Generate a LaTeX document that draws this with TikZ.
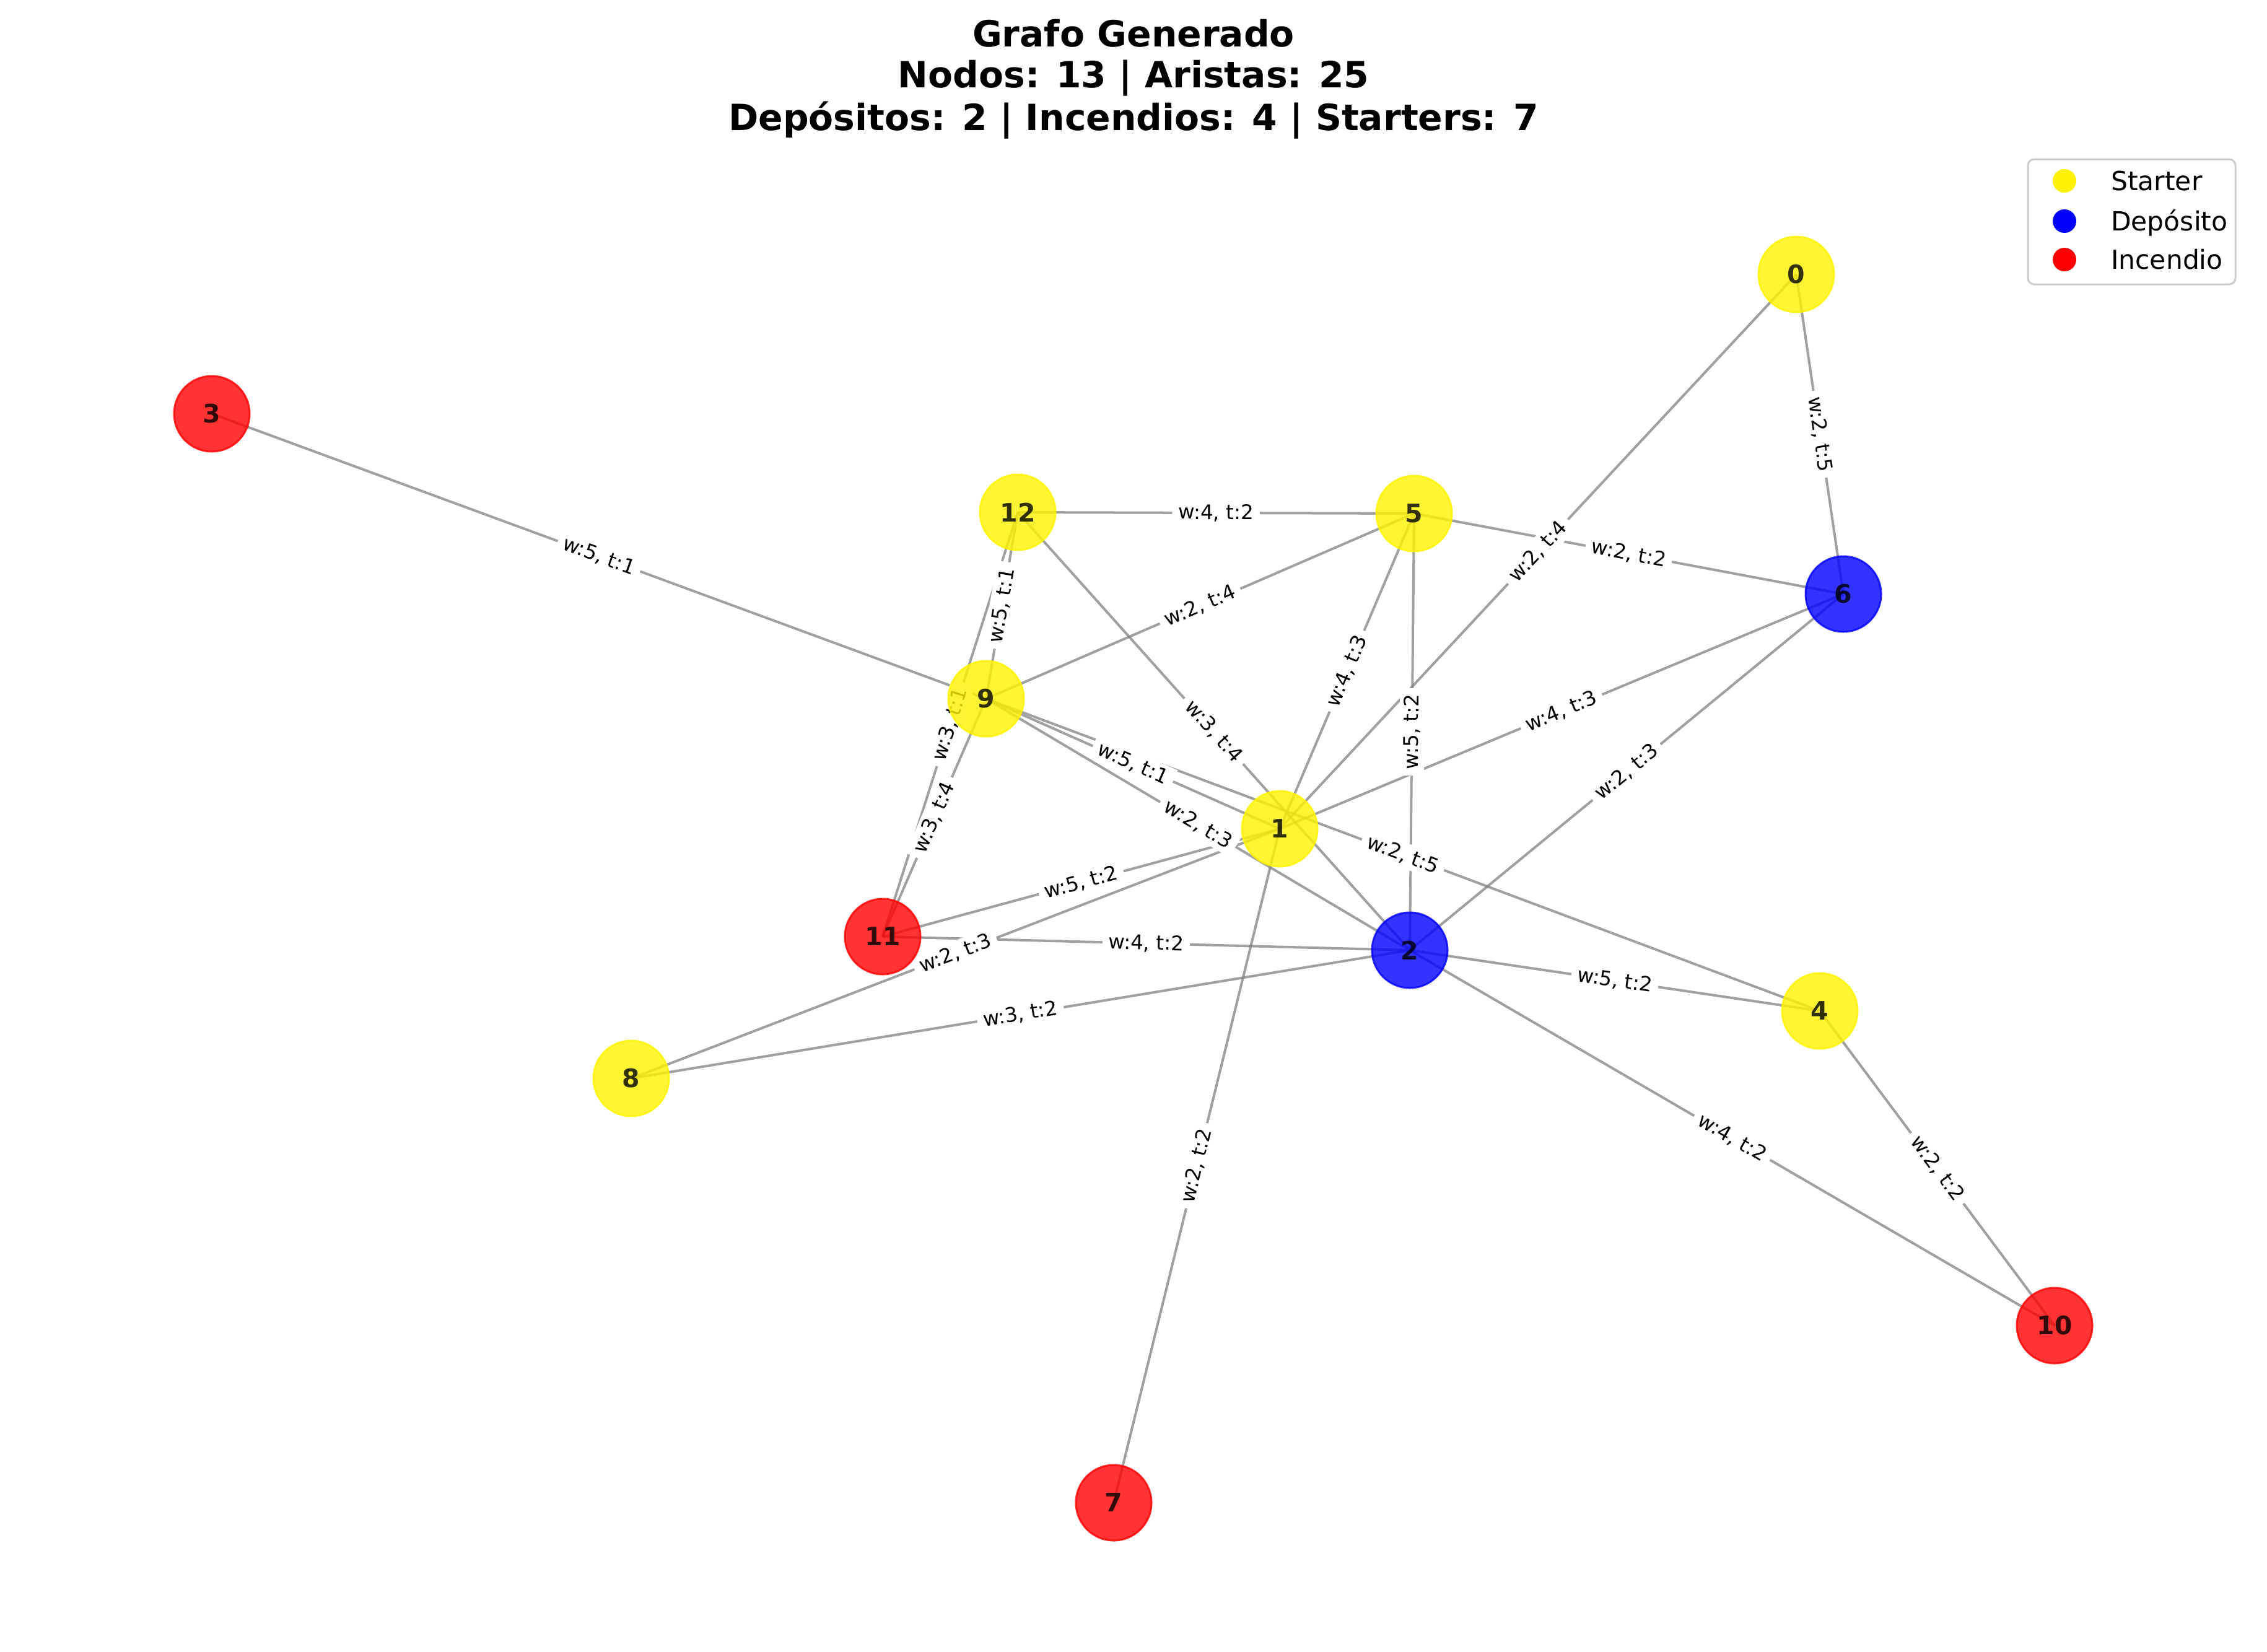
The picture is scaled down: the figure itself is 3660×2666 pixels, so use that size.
\documentclass[tikz,border=0pt]{standalone}
\usepackage{fontspec}
\setmainfont{DejaVu Sans}
\pgfdeclarelayer{edges}
\pgfdeclarelayer{weights}
\pgfsetlayers{edges,weights,main}
\definecolor{edgegray}{RGB}{128,128,128}
\tikzset{
    vert/.style={circle, minimum size=24.4pt, inner sep=0pt, line width=0.6pt,
        fill opacity=0.8, draw opacity=0.8, text opacity=0.8,
        font=\fontsize{8.2}{10}\selectfont\bfseries},
    starter/.style={vert, fill=yellow, draw=yellow},
    deposito/.style={vert, fill=blue, draw=blue},
    incendio/.style={vert, fill=red, draw=red},
    edge/.style={draw=edgegray, draw opacity=0.75, line width=0.8pt},
    weight/.style={sloped, fill=white, inner xsep=2pt, inner ysep=1.2pt,
        font=\fontsize{6.5}{8}\selectfont},
    ttl/.style={anchor=base, inner sep=0pt, font=\fontsize{11.66}{14}\selectfont\bfseries},
    keydot/.style={circle, minimum size=7.6pt, inner sep=0pt},
    keytext/.style={anchor=base west, inner sep=0pt, font=\fontsize{8.5}{10}\selectfont}
}
\def\edgelist{0/6/{w:2, t:5}, 0/1/{w:2, t:4}, 12/5/{w:4, t:2}, 5/6/{w:2, t:2},
    3/9/{w:5, t:1}, 9/5/{w:2, t:4}, 5/1/{w:4, t:3}, 5/2/{w:5, t:2},
    12/2/{w:3, t:4}, 12/9/{w:5, t:1}, 12/11/{w:3, t:1}, 9/11/{w:3, t:4},
    1/6/{w:4, t:3}, 6/2/{w:2, t:3}, 9/1/{w:5, t:1}, 9/2/{w:2, t:3},
    9/4/{w:2, t:5}, 1/11/{w:5, t:2}, 1/8/{w:2, t:3}, 11/2/{w:4, t:2},
    8/2/{w:3, t:2}, 2/4/{w:5, t:2}, 2/10/{w:4, t:2}, 4/10/{w:2, t:2},
    1/7/{w:2, t:2}}
\begin{document}
\begin{tikzpicture}[x=0.2pt, y=-0.2pt]
    \useasboundingbox (0,0) rectangle (3660,2666);
    \node[ttl] (title1) at (1830,75) {Grafo Generado};
    \node[ttl] (title2) at (1830,141) {Nodos: 13 | Aristas: 25};
    \node[ttl] (title3) at (1830,210) {Depósitos: 2 | Incendios: 4 | Starters: 7};
    \node[starter] (v0) at (2900,443) {0};
    \node[starter] (v1) at (2066,1338) {1};
    \node[deposito] (v2) at (2276,1534) {2};
    \node[incendio] (v3) at (342,668) {3};
    \node[starter] (v4) at (2938,1632) {4};
    \node[starter] (v5) at (2283,829) {5};
    \node[deposito] (v6) at (2976,959) {6};
    \node[incendio] (v7) at (1798,2426) {7};
    \node[starter] (v8) at (1019,1741) {8};
    \node[starter] (v9) at (1592,1128) {9};
    \node[incendio] (v10) at (3317,2140) {10};
    \node[incendio] (v11) at (1425,1512) {11};
    \node[starter] (v12) at (1643,827) {12};
    \begin{pgfonlayer}{edges}
        \foreach \a/\b/\w in \edgelist
            \draw[edge] (v\a.center) -- (v\b.center);
    \end{pgfonlayer}
    \begin{pgfonlayer}{weights}
        \foreach \a/\b/\w in \edgelist
            \path (v\a.center) -- node[weight] {\w} (v\b.center);
    \end{pgfonlayer}
    \draw[black!20, line width=0.6pt, rounded corners=2pt, fill=white]
        (3274,257) rectangle (3609,459);
    \node[keydot, fill=yellow] (keyS) at (3333,292) {};
    \node[keytext] at (3407,307) {Starter};
    \node[keydot, fill=blue] (keyD) at (3333,357) {};
    \node[keytext] at (3407,372) {Depósito};
    \node[keydot, fill=red] (keyI) at (3333,419) {};
    \node[keytext] at (3407,434) {Incendio};
\end{tikzpicture}
\end{document}
